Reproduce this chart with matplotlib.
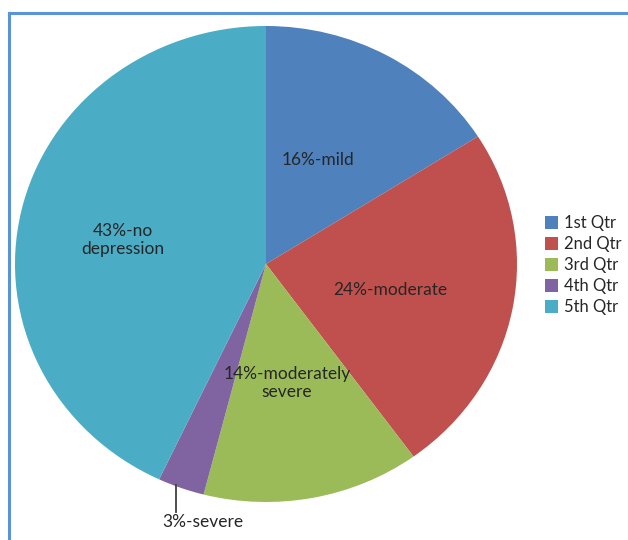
import matplotlib.pyplot as plt
from matplotlib.lines import Line2D

plt.rcParams['font.family'] = ['Lato', 'DejaVu Sans']

legend_names = ['1st Qtr', '2nd Qtr', '3rd Qtr', '4th Qtr', '5th Qtr']
shares = [16, 24, 14, 3, 43]
slice_labels = ['16%-mild', '24%-moderate', '14%-moderately\nsevere', '3%-severe', '43%-no\ndepression']
colors = ['#4F81BD', '#C0504D', '#9BBB59', '#8064A2', '#4BACC6']

# label spots inside the pie (data coords, radius = 1)
label_xy = [(0.207, 0.437), (0.494, -0.109), (0.084, -0.5), (-0.251, -1.084), (-0.57, 0.10)]

W, H = 628, 540
fig = plt.figure(figsize=(W / 100, H / 100), dpi=100)

# the original pie is a little wider than tall
cx, cy, rx, ry = 266, 264, 251, 238
ax = fig.add_axes([(cx - rx) / W, (H - cy - ry) / H, 2 * rx / W, 2 * ry / H])
wedges, _ = ax.pie(shares, colors=colors, startangle=90, counterclock=False,
                   radius=1, wedgeprops=dict(linewidth=0))
ax.set_aspect('auto')
ax.set_xlim(-1, 1)
ax.set_ylim(-1, 1)
ax.axis('off')

for lab, (x, y) in zip(slice_labels, label_xy):
    ax.text(x, y, lab, ha='center', va='center', fontsize=12.5,
            color='#262626', linespacing=1.15)

# leader line for the small slice
ax.plot([-0.359, -0.359], [-0.93, -1.04], color='#404040', lw=1.3, clip_on=False)

leg = fig.legend(wedges, legend_names, loc='center left',
                 bbox_to_anchor=(530 / W, 1 - 265 / H), frameon=False,
                 fontsize=12, handlelength=0.8, handleheight=0.8,
                 handletextpad=0.35, labelspacing=0.3)
for t in leg.get_texts():
    t.set_color('#262626')

# blue frame (left and top edges visible)
fig.add_artist(Line2D([9 / W, 9 / W], [0, 1 - 13 / H], color='#5B93D8', lw=2.2))
fig.add_artist(Line2D([9 / W, 1], [1 - 13 / H, 1 - 13 / H], color='#5B93D8', lw=2.2))

fig.savefig('out.png', dpi=100)
